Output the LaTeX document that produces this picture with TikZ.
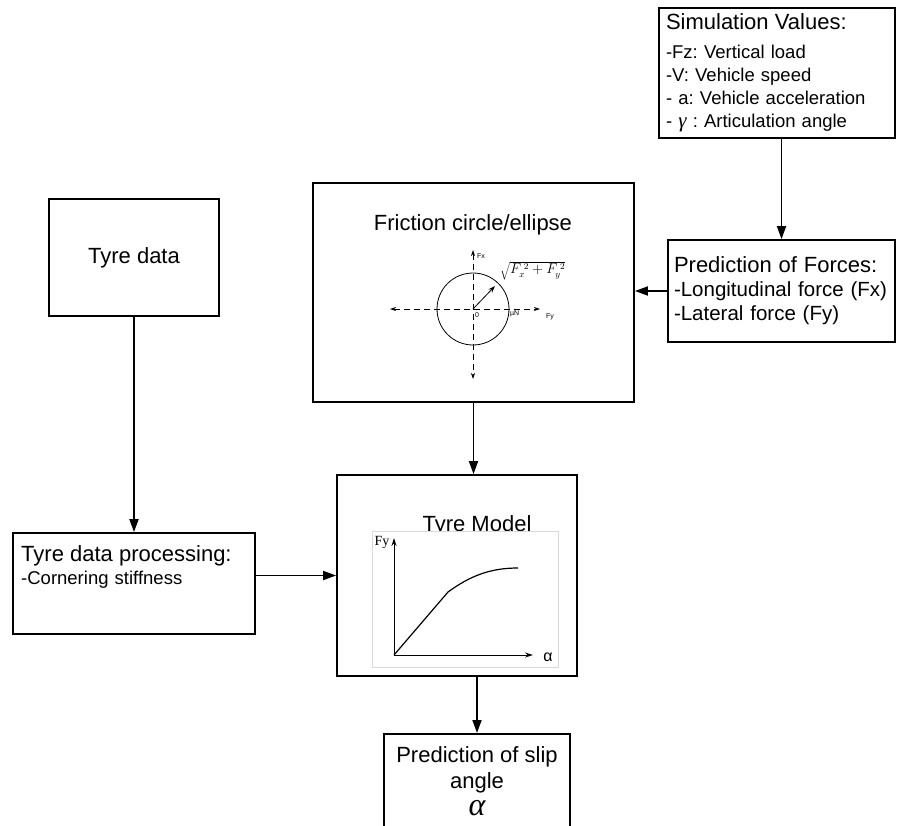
\documentclass[tikz,border=0pt]{standalone}
\usepackage{fontspec}
\setmainfont{Liberation Sans}
\newfontfamily\greekfont{Liberation Serif}
\usetikzlibrary{arrows.meta,positioning}
\frenchspacing

\begin{document}
\begin{tikzpicture}[x=1pt, y=-1pt,
    block/.style={rectangle, draw, line width=1.8pt, inner sep=0pt},
    arrow/.style={-{Triangle[length=13pt,width=9pt]}, line width=1.8pt},
    axis/.style={dash pattern=on 6pt off 4pt, {Stealth[length=6pt,width=4pt]}-{Stealth[length=6pt,width=4pt]}, line width=0.8pt},
    title/.style={font=\fontsize{22}{26}\selectfont},
    body/.style={font=\fontsize{18.5}{23}\selectfont},
    tiny/.style={font=\fontsize{7}{8}\selectfont, inner sep=1pt}
]
    \useasboundingbox (0,0) rectangle (897,825);
    \clip (0,0) rectangle (897,825);

    % boxes
    \node[block, body, minimum width=236pt, minimum height=130pt, text width=222pt, align=left] (sim) at (777,73)
        {{\fontsize{22}{26}\selectfont Simulation Values:}\\[6pt]-Fz: Vertical load\\-V: Vehicle speed\\- a: Vehicle acceleration\\- {\greekfont\itshape\fontsize{21}{23}\selectfont γ} : Articulation angle};
    \node[block, font=\fontsize{20.5}{24}\selectfont, minimum width=227pt, minimum height=102pt, text width=215pt, align=left] (forces) at (781.5,291)
        {{\fontsize{22}{26}\selectfont Prediction of Forces:}\\-Longitudinal force (Fx)\\-Lateral force (Fy)};
    \node[block, title, minimum width=170pt, minimum height=117pt] (tdata) at (134,257.5) {Tyre data};
    \node[block, minimum width=321pt, minimum height=219pt] (fric) at (473.5,292.5) {};
    \node[title] (frictitle) at (473,225) {Friction circle/ellipse};
    \node[block, minimum width=242pt, minimum height=101pt] (proc) at (134,583.5) {};
    \node[body, anchor=north west, inner sep=0pt, text width=228pt, align=left] (proctext) at (21,545)
        {{\fontsize{22}{26}\selectfont Tyre data processing:}\\-Cornering stiffness};
    \node[block, minimum width=240pt, minimum height=201pt] (tyre) at (457,575.5) {};
    \node[title, anchor=base] (tyretitle) at (477,531) {Tyre Model};
    \node[block, anchor=north, minimum width=186pt, minimum height=130pt] (slip) at (477,733) {};
    \node[title, anchor=north, inner sep=0pt, align=center] (sliptext) at (477,746)
        {Prediction of slip\\angle};
    \node[font=\greekfont\itshape\fontsize{32}{32}\selectfont, inner sep=0pt] (slipalpha) at (477,808) {α};

    % friction circle
    \coordinate (o) at (473,309);
    \draw[line width=0.8pt] (o) circle[radius=36pt];
    \draw[axis] (390,309) -- (540,309);
    \draw[axis] (473,250) -- (473,379);
    \draw[-{Stealth[length=7pt,width=5pt]}, line width=0.8pt] (o) -- (495,286);
    \node[tiny, anchor=west] (fxlab) at (476,256) {Fx};
    \node[tiny, anchor=west] (zerolab) at (474,315) {0};
    \node[tiny, anchor=west] (mulab) at (509,314) {µN};
    \node[tiny, anchor=west] (fylab) at (545,317) {Fy};
    \node[font=\fontsize{13.5}{15}\selectfont, anchor=west, inner sep=0pt] (radlab) at (500,271) {$\sqrt{F_x^{\;2}+F_y^{\;2}}$};

    % tyre curve
    \draw[draw=black!15, fill=white, line width=0.8pt] (372,531) rectangle (558,667);
    \draw[-{Stealth[length=8pt,width=5pt]}, line width=1pt] (394,655) -- (394,538);
    \draw[-{Stealth[length=8pt,width=5pt]}, line width=1pt] (394,655) -- (533,655);
    \draw[line width=1.2pt] (394,655) -- (448,592) .. controls (470,576) and (490,568) .. (518,568);
    \node[font=\greekfont\fontsize{14}{16}\selectfont] (fyaxis) at (382,542) {Fy};
    \node[font=\fontsize{16}{18}\selectfont] (alphaaxis) at (548,657) {α};

    % connectors
    \draw[arrow] (forces.north |- sim.south) -- (forces.north);
    \draw[arrow] (forces.west) -- (forces.west -| fric.east);
    \draw[arrow] (fric.south) -- (fric.south |- tyre.north);
    \draw[arrow] (tdata.south) -- (proc.north);
    \draw[arrow] (proc.east |- tyre.west) -- (tyre.west);
    \draw[arrow] (slip.north |- tyre.south) -- (slip.north);
\end{tikzpicture}
\end{document}
